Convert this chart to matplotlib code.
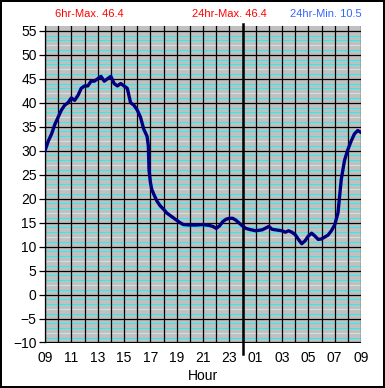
import matplotlib
matplotlib.use("Agg")
import matplotlib.pyplot as plt

plt.rcParams['font.family'] = ['Liberation Sans', 'DejaVu Sans']

# hours since 09:00 and temperature
hours = [0, 0.25, 0.5, 0.75, 1.0, 1.25, 1.5, 1.75, 2.0, 2.25, 2.5, 2.75,
         3.0, 3.25, 3.5, 3.75, 4.0, 4.25, 4.5, 4.75, 5.0, 5.25, 5.5, 5.75,
         6.0, 6.25, 6.5, 6.75, 7.0, 7.25, 7.5, 7.75, 7.85, 7.9, 8.0, 8.1,
         8.25, 8.5, 8.75, 9.0, 9.25, 9.5, 9.75, 10.0, 10.25, 10.5, 11.0,
         11.5, 12.0, 12.5, 12.75, 13.0, 13.25, 13.5, 13.75, 14.0, 14.25,
         14.5, 14.75, 15.0, 15.25, 15.5, 16.0, 16.5, 17.0, 17.25, 17.5,
         17.75, 18.0, 18.25, 18.5, 18.75, 19.0, 19.25, 19.5, 19.75, 20.0,
         20.25, 20.5, 20.75, 21.0, 21.25, 21.5, 21.75, 22.0, 22.25, 22.5,
         22.75, 23.0, 23.25, 23.5, 23.75, 24.0]
temps = [30.0, 32.0, 33.5, 35.5, 37.0, 38.5, 39.5, 40.0, 41.0, 40.5, 41.5, 43.0,
         43.5, 43.5, 44.5, 44.5, 45.0, 45.5, 44.5, 45.0, 45.5, 44.0, 43.5, 44.0,
         43.5, 43.0, 40.0, 39.5, 38.5, 37.0, 34.5, 33.0, 31.0, 26.0, 23.5, 22.0,
         21.0, 19.5, 18.5, 17.8, 17.0, 16.5, 16.0, 15.5, 15.0, 14.6, 14.5,
         14.5, 14.6, 14.4, 14.2, 13.8, 14.3, 15.2, 15.7, 15.9, 15.9,
         15.5, 14.9, 14.3, 13.8, 13.6, 13.3, 13.5, 14.2, 13.6, 13.5,
         13.4, 13.3, 13.0, 13.3, 13.0, 12.5, 11.5, 10.6, 11.2, 12.2,
         12.8, 12.2, 11.5, 11.6, 12.0, 12.4, 13.3, 14.5, 17.0, 24.0,
         28.0, 30.2, 32.0, 33.5, 34.2, 33.8]

tick_hours = list(range(0, 25, 2))
tick_labels = ['09', '11', '13', '15', '17', '19', '21', '23',
               '01', '03', '05', '07', '09']
midnight = 15

fig = plt.figure(figsize=(3.85, 3.88), dpi=100)
fig.patch.set_edgecolor('black')
fig.patch.set_linewidth(1.5)
ax = fig.add_axes([45/385, 1 - 342.5/388, 316/385, 316.5/388])
ax.set_facecolor('#C0C0C0')
ax.set_xlim(0, 24)
ax.set_ylim(-10, 56)

# minor cyan lines every degree, black grid every 5 degrees and every hour
for v in range(-9, 56):
    if v % 5 == 2:
        ax.axhline(v, color='#D8E8E8', lw=0.6, zorder=1)
    elif v % 5 != 0:
        ax.axhline(v, color='#00FFFF', lw=0.6, zorder=1)
for v in range(-10, 56, 5):
    ax.axhline(v, color='black', lw=0.9, zorder=2)
for h in range(0, 25):
    ax.axvline(h, color='black', lw=0.9, zorder=2)
ax.axvline(midnight, ymin=-11/316.5, ymax=1 + 2/316.5, color='black',
           lw=1.8, clip_on=False, zorder=3)

ax.plot(hours, temps, color='#000080', lw=2.4, zorder=4)

for s in ax.spines.values():
    s.set_visible(False)
ax.spines['left'].set_visible(True)
ax.spines['left'].set_linewidth(0.9)

ax.set_yticks(range(-10, 56, 5))
ax.set_xticks(tick_hours)
ax.set_xticklabels(tick_labels)
ax.tick_params(axis='y', length=4, width=0.9, labelsize=10, pad=2)
ax.tick_params(axis='x', length=0, labelsize=10, pad=6)
ax.set_xlabel('Hour', fontsize=10, labelpad=3)

fig.text(55/385, 1 - 14/388, '6hr-Max. 46.4', color='#FF0000', fontsize=8,
         va='center', ha='left')
fig.text(229/385, 1 - 14/388, '24hr-Max. 46.4', color='#FF0000', fontsize=8,
         va='center', ha='center')
fig.text(362/385, 1 - 14/388, '24hr-Min. 10.5', color='#3366FF', fontsize=8,
         va='center', ha='right')

fig.savefig('out.png', dpi=100)
